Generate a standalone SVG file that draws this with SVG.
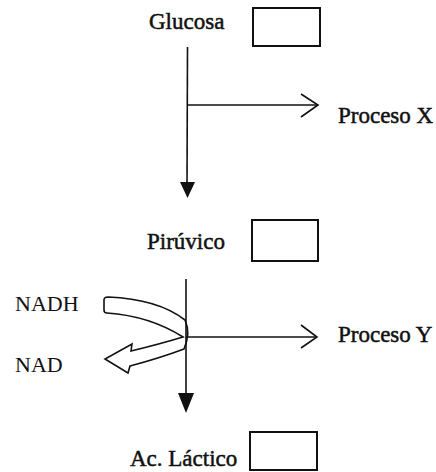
<svg xmlns="http://www.w3.org/2000/svg" width="436" height="472" viewBox="0 0 436 472">
<style>
.lbl{font-family:"Liberation Serif","Times New Roman",serif;font-size:23px;fill:#111;stroke:#111;stroke-width:0.5}
.reg{font-family:"Liberation Serif","Times New Roman",serif;font-size:22px;fill:#111}
.box{fill:#fff;stroke:#111;stroke-width:2}
.ln{stroke:#111;stroke-width:1.6;fill:none}
.head{fill:#111;stroke:none}
.open{fill:none;stroke:#111;stroke-width:1.6}
</style>
<rect width="436" height="472" fill="#fff"/>
<g id="glucosa">
<text class="lbl" x="149" y="29">Glucosa</text>
<rect class="box" x="253" y="8" width="67" height="38"/>
</g>
<g id="piruvico">
<text class="lbl" x="147" y="249">Pirúvico</text>
<rect class="box" x="252" y="220" width="66" height="41"/>
</g>
<g id="lactico">
<text class="lbl" x="130" y="466">Ac. Láctico</text>
<rect class="box" x="250" y="432" width="67" height="38"/>
</g>
<g id="procesoX">
<text class="lbl" x="338" y="123">Proceso X</text>
</g>
<g id="procesoY">
<text class="lbl" x="338" y="342">Proceso Y</text>
</g>
<g id="nadh">
<text class="reg" x="15" y="311">NADH</text>
</g>
<g id="nad">
<text class="reg" x="15" y="372">NAD</text>
</g>
<g id="connectors">
<line class="ln" x1="187.5" y1="47" x2="187" y2="186"/>
<polygon class="head" points="180,182 195,182 187.5,198"/>
<line class="ln" x1="187" y1="105" x2="317" y2="105"/>
<polyline class="open" points="301,94 318,105 301,117"/>
<line class="ln" x1="186" y1="279" x2="186" y2="396"/>
<polygon class="head" points="178,393 194,393 186,413"/>
<line class="ln" x1="186" y1="337" x2="316" y2="337"/>
<polyline class="open" points="301,325 317,337 301,348"/>
<path class="ln" fill="#fff" d="M 108 297 Q 158 299 185 320 Q 191 333 184 349 Q 160 358 130 366 L 128 373 L 105 359 L 132 344 L 131 351 Q 160 344 183 337 Q 150 316 107 313 Q 104 313 104 310 L 104 300 Q 104 297 108 297 Z"/>
</g>
</svg>
